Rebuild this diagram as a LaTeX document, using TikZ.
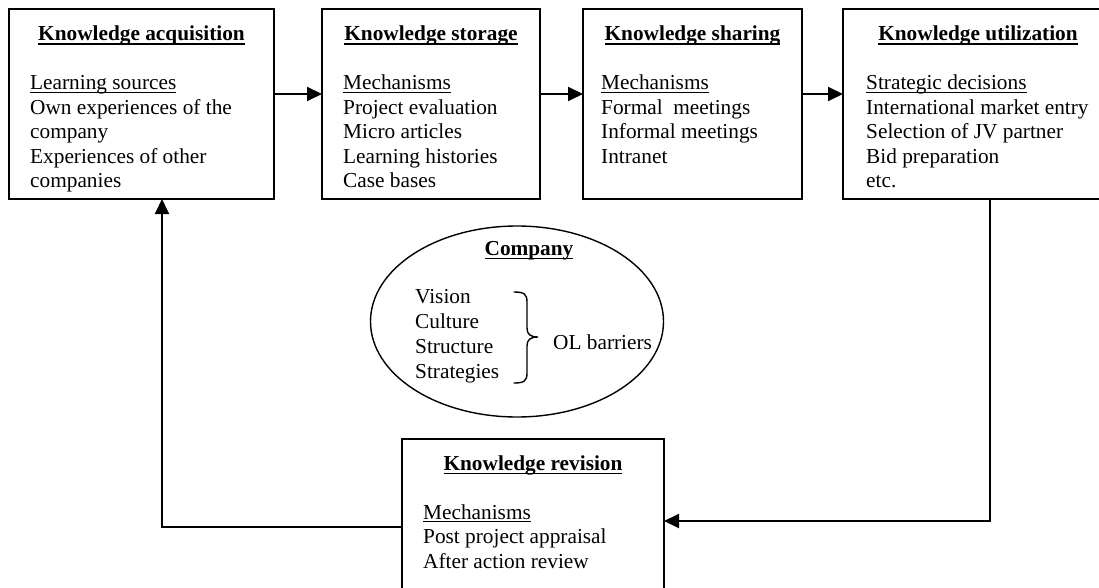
\documentclass[tikz,border=0pt]{standalone}
\usepackage{fontspec}
\setmainfont{Liberation Serif}
\usetikzlibrary{arrows.meta,shapes.geometric}
\newlength\ulwd
\newcommand\ulreg[1]{\settowidth{\ulwd}{#1}\rlap{\rule[-3pt]{\ulwd}{1.1pt}}#1}
\newcommand\ulbold[1]{\settowidth{\ulwd}{#1}\rlap{\rule[-4.2pt]{\ulwd}{1.7pt}}#1}
\tikzset{
  box/.style={draw, line width=2pt, rectangle, anchor=north west, inner sep=0pt, outer sep=0pt},
  ttl/.style={anchor=north, inner sep=0pt, font=\fontsize{21.3}{24.5}\selectfont\bfseries},
  body/.style={anchor=north west, inner sep=0pt, align=left, font=\fontsize{21.3}{24.5}\selectfont},
  arr/.style={line width=2pt, -{Triangle[length=15pt,width=14pt]}},
  bracestyle/.style={line width=1.4pt, line cap=round},
}
\begin{document}
\begin{tikzpicture}[x=1pt,y=-1pt]
\useasboundingbox (0,0) rectangle (1099,588);
% boxes
\node[box, minimum width=265pt, minimum height=190pt] (b1) at (9,9) {};
\node[box, minimum width=218pt, minimum height=190pt] (b2) at (322,9) {};
\node[box, minimum width=219pt, minimum height=190pt] (b3) at (583,9) {};
\node[box, minimum width=270pt, minimum height=190pt] (b4) at (843,9) {};
\node[box, minimum width=262pt, minimum height=151pt] (b5) at (402,439) {};
% titles
\node[ttl] (t1) at (141.5,23.35) {\strut\ulbold{Knowledge acquisition}};
\node[ttl] (t2) at (431,23.35) {\strut\ulbold{Knowledge storage}};
\node[ttl] (t3) at (692.5,23.35) {\strut\ulbold{Knowledge sharing}};
\node[ttl] (t4) at (978,23.35) {\strut\ulbold{Knowledge utilization}};
\node[ttl] (t5) at (533,452.85) {\strut\ulbold{Knowledge revision}};
% bodies
\node[body] (s1) at (30,72.35) {\strut\ulreg{Learning sources}\\Own experiences of the\\company\\Experiences of other\\companies};
\node[body] (s2) at (343,72.35) {\strut\ulreg{Mechanisms}\\Project evaluation\\Micro articles\\Learning histories\\Case bases};
\node[body] (s3) at (601,72.35) {\strut\ulreg{Mechanisms}\\Formal\ \ meetings\\Informal meetings\\Intranet};
\node[body] (s4) at (866,72.35) {\strut\ulreg{Strategic decisions}\\International market entry\\Selection of JV partner\\Bid preparation\\etc.};
\node[body] (s5) at (423,501.85) {\strut\ulreg{Mechanisms}\\Post project appraisal\\After action review};
% company ellipse
\node[draw, ellipse, line width=1.4pt, minimum width=293pt, minimum height=191pt, inner sep=0pt] (co) at (517,321.5) {};
\node[ttl] (ct) at (529,237.85) {\strut\ulbold{Company}};
\node[body, font=\fontsize{21.3}{25}\selectfont] (items) at (415,286.2) {\strut Vision\\Culture\\Structure\\Strategies};
\draw[bracestyle] (514,292) .. controls (524,292) and (527,294) .. (527,302)
  -- (527,328) .. controls (527,334) and (530,337) .. (538,337)
  .. controls (530,337) and (527,340) .. (527,346)
  -- (527,373) .. controls (527,381) and (524,383) .. (514,383);
\node[anchor=base west, inner sep=0pt, font=\fontsize{21.3}{24.5}\selectfont] (ol) at (553,349.7) {OL barriers};
% connectors
\coordinate (r1) at (990,521);
\coordinate (l1) at (162,527);
\draw[arr] ([yshift=10pt]b1.east) -- ([yshift=10pt]b2.west);
\draw[arr] ([yshift=10pt]b2.east) -- ([yshift=10pt]b3.west);
\draw[arr] ([yshift=10pt]b3.east) -- ([yshift=10pt]b4.west);
\draw[arr] (b4.south -| r1) -- (r1) -- (b5.east |- r1);
\draw[arr] (b5.west |- l1) -- (l1) -- (b1.south -| l1);
\end{tikzpicture}
\end{document}
